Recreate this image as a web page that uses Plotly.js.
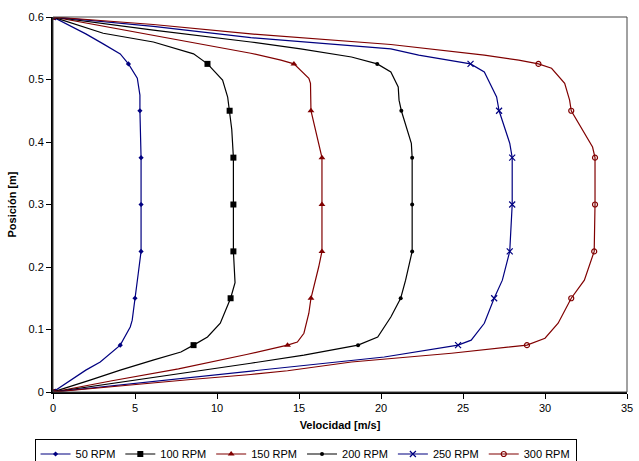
<!DOCTYPE html>
<html>
<head>
<meta charset="utf-8">
<script src="https://cdn.plot.ly/plotly-3.0.1.min.js"></script>
<style>html,body{margin:0;padding:0;background:#fff;}#chart{width:639px;height:461px;}</style>
</head>
<body>
<div id="chart"></div>
<script>
// Series names
const seriesNames = ["50 RPM", "100 RPM", "150 RPM", "200 RPM", "250 RPM", "300 RPM"];

// Position [m] and velocity [m/s] for each series
const pos50 = [0.6, 0.573, 0.557, 0.541, 0.525, 0.502, 0.475, 0.45, 0.375, 0.3, 0.225, 0.19, 0.15, 0.115, 0.104, 0.075, 0.048, 0.035, 0];
const vel50 = [0, 2.0, 3.06, 4.1, 4.6, 5.14, 5.3, 5.3, 5.37, 5.37, 5.37, 5.2, 5.0, 4.83, 4.71, 4.1, 2.88, 2.0, 0];

const pos100 = [0.6, 0.574, 0.56, 0.541, 0.525, 0.499, 0.472, 0.45, 0.42, 0.375, 0.3, 0.225, 0.175, 0.15, 0.11, 0.088, 0.075, 0.064, 0.051, 0.035, 0.019, 0];
const vel100 = [0, 3.06, 6.12, 8.57, 9.42, 10.34, 10.65, 10.77, 10.9, 11.0, 11.0, 11.0, 11.1, 10.83, 10.2, 9.42, 8.57, 7.8, 6.1, 4.1, 2.26, 0];

const pos150 = [0.6, 0.57, 0.542, 0.531, 0.525, 0.502, 0.494, 0.45, 0.375, 0.3, 0.225, 0.2, 0.15, 0.126, 0.094, 0.08, 0.075, 0.06, 0.037, 0.018, 0];
const vel150 = [0, 6.12, 12.06, 13.9, 14.69, 15.6, 15.7, 15.73, 16.4, 16.4, 16.4, 16.2, 15.73, 15.6, 15.3, 14.9, 14.3, 11.8, 7.65, 3.6, 0];

const pos200 = [0.6, 0.579, 0.56, 0.549, 0.536, 0.525, 0.512, 0.488, 0.467, 0.45, 0.398, 0.375, 0.3, 0.225, 0.179, 0.15, 0.12, 0.088, 0.075, 0.068, 0.059, 0.046, 0.036, 0.016, 0];
const vel200 = [0, 6.12, 12.06, 15.1, 18.2, 19.77, 20.6, 21.05, 21.1, 21.24, 21.85, 21.9, 21.9, 21.9, 21.5, 21.2, 20.6, 19.8, 18.6, 17.1, 15.3, 12.06, 9.4, 4.3, 0];

const pos250 = [0.6, 0.585, 0.567, 0.549, 0.539, 0.525, 0.512, 0.472, 0.45, 0.398, 0.375, 0.3, 0.225, 0.179, 0.15, 0.11, 0.083, 0.075, 0.056, 0.045, 0.034, 0.023, 0.012, 0];
const vel250 = [0, 6.12, 12.06, 20.6, 22.3, 25.46, 26.3, 27.05, 27.2, 27.85, 28.0, 28.0, 27.85, 27.4, 26.9, 26.3, 25.5, 24.7, 20.2, 16.2, 12.06, 8.4, 4.3, 0];

const pos300 = [0.6, 0.588, 0.573, 0.556, 0.539, 0.531, 0.525, 0.518, 0.494, 0.467, 0.45, 0.392, 0.375, 0.3, 0.225, 0.179, 0.15, 0.11, 0.086, 0.075, 0.062, 0.048, 0.034, 0.028, 0.02, 0.01, 0];
const vel300 = [0, 6.12, 12.06, 20.6, 26.3, 28.4, 29.6, 30.4, 31.2, 31.5, 31.6, 32.9, 33.05, 33.05, 33.0, 32.4, 31.6, 30.8, 30.0, 28.9, 24.3, 18.2, 14.3, 12.06, 8.4, 4.3, 0];

// Axis ticks
const xTicks = [0, 5, 10, 15, 20, 25, 30, 35];
const yTicks = [0, 0.1, 0.2, 0.3, 0.4, 0.5, 0.6];
const yTickLabels = ["0", "0.1", "0.2", "0.3", "0.4", "0.5", "0.6"];

const allPos = [pos50, pos100, pos150, pos200, pos250, pos300];
const allVel = [vel50, vel100, vel150, vel200, vel250, vel300];
const colors = ["#000080", "#000000", "#800000", "#000000", "#000080", "#800000"];
const symbols = ["diamond", "square", "triangle-up", "circle", "x-thin-open", "circle-open"];
const sizes = [4, 6, 6, 4, 6, 5];
const markerStep = 0.075;

function isMarker(p) {
  const r = p / markerStep;
  return Math.abs(r - Math.round(r)) < 1e-6;
}

const traces = seriesNames.map((name, i) => ({
  type: "scatter",
  mode: "lines+markers",
  name: name,
  x: allVel[i],
  y: allPos[i],
  line: {color: colors[i], width: 1.2},
  marker: {
    symbol: symbols[i],
    size: sizes[i],
    color: allPos[i].map(p => isMarker(p) ? colors[i] : "rgba(0,0,0,0)"),
    line: {color: colors[i], width: symbols[i].indexOf("open") >= 0 ? 1.2 : 0}
  },
  hoverinfo: "x+y"
}));

const layout = {
  width: 639,
  height: 461,
  margin: {l: 53, r: 12, t: 17, b: 69, autoexpand: false},
  paper_bgcolor: "#fff",
  plot_bgcolor: "#fff",
  font: {family: "Liberation Sans, Arial, sans-serif", size: 11, color: "#000"},
  showlegend: true,
  legend: {
    orientation: "h",
    x: 0.44, xanchor: "center",
    y: -0.124, yanchor: "top",
    bordercolor: "#000", borderwidth: 1,
    font: {size: 11, color: "#000"},
    itemwidth: 30,
    tracegroupgap: 0
  },
  xaxis: {
    range: [0, 35],
    tickvals: xTicks,
    ticktext: xTicks.map(String),
    ticks: "outside", ticklen: 5, tickcolor: "#000",
    showline: true, linecolor: "#000", linewidth: 2,
    showgrid: false, zeroline: false, automargin: false,
    title: {text: "<b>Velocidad [m/s]</b>", font: {size: 11}, standoff: 8},
    tickfont: {size: 11}
  },
  yaxis: {
    range: [0, 0.6],
    tickvals: yTicks,
    ticktext: yTickLabels,
    ticks: "outside", ticklen: 5, tickcolor: "#000",
    showline: true, linecolor: "#000", linewidth: 2,
    showgrid: false, zeroline: false, automargin: false,
    title: {text: "<b>Posición [m]</b>", font: {size: 11}, standoff: 10},
    tickfont: {size: 11}
  },
  shapes: [{
    type: "rect", xref: "paper", yref: "paper",
    x0: 0, x1: 1, y0: 0, y1: 1,
    line: {color: "#444", width: 1}
  }]
};

Plotly.newPlot("chart", traces, layout, {displayModeBar: false, staticPlot: true});
</script>
</body>
</html>
